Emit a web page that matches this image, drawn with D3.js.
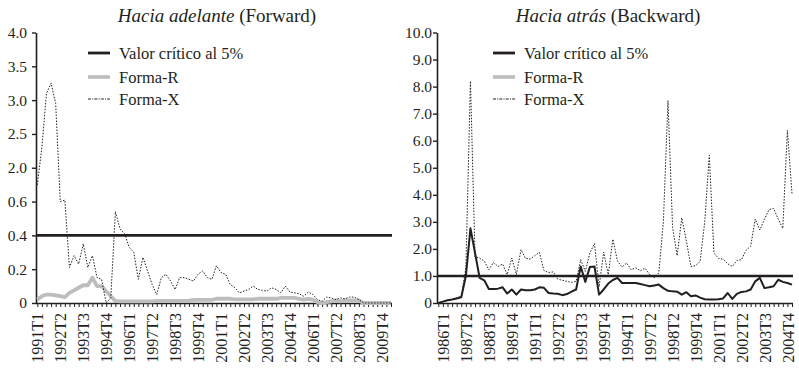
<!DOCTYPE html>
<html>
<head>
<meta charset="utf-8">
<script src="https://cdn.jsdelivr.net/npm/d3@7"></script>
<style>
  body { margin: 0; background: #fff; }
  svg text { font-family: "Liberation Serif", "DejaVu Serif", serif; fill: #231f20; }
</style>
</head>
<body>
<div id="container"></div>
<script>
const width = 799, height = 370;

/** -------------- DATA -------------- */

// left panel: 1991T1 .. 2010T2, one value per quarter
const leftTickLabels = ["1991T1", "1992T2", "1993T3", "1994T4", "1996T1", "1997T2", "1998T3", "1999T4",
  "2001T1", "2002T2", "2003T3", "2004T4", "2006T1", "2007T2", "2008T3", "2009T4"];
const leftFormaR = [0.02, 0.04, 0.05, 0.05, 0.045, 0.04, 0.035, 0.06, 0.075, 0.09,
  0.105, 0.105, 0.15, 0.10, 0.10, 0.07, 0.04, 0.012, 0.01, 0.01,
  0.01, 0.01, 0.01, 0.01, 0.01, 0.01, 0.012, 0.012, 0.012, 0.012,
  0.012, 0.012, 0.012, 0.012, 0.018, 0.018, 0.018, 0.018, 0.018, 0.025,
  0.025, 0.025, 0.025, 0.022, 0.022, 0.022, 0.022, 0.022, 0.025, 0.025,
  0.025, 0.025, 0.025, 0.03, 0.03, 0.03, 0.03, 0.025, 0.02, 0.025,
  0.02, 0.005, 0, 0.005, 0.01, 0.015, 0.01, 0.015, 0.015, 0.015,
  0.015, 0, 0, 0, 0, 0, 0, 0];
const leftFormaX = [1.29, 2.3, 3.1, 3.25, 2.95, 0.6, 0.66, 0.21, 0.28, 0.23,
  0.35, 0.21, 0.28, 0.15, 0.14, 0.0, 0.03, 0.54, 0.44, 0.41,
  0.33, 0.30, 0.14, 0.27, 0.19, 0.11, 0.05, 0.15, 0.17, 0.13,
  0.08, 0.15, 0.15, 0.14, 0.13, 0.17, 0.19, 0.15, 0.14, 0.22,
  0.18, 0.17, 0.11, 0.09, 0.06, 0.07, 0.08, 0.10, 0.08, 0.075,
  0.07, 0.09, 0.08, 0.06, 0.10, 0.065, 0.06, 0.055, 0.04, 0.065,
  0.05, 0.02, 0.01, 0.035, 0.03, 0.02, 0.03, 0.025, 0.035, 0.035,
  0.02, 0, 0, 0, 0, 0, 0, 0];
const leftCritical = 0.4;
const leftYTicks = [0, 0.2, 0.4, 0.6, 2.0, 2.5, 3.0, 3.5, 4.0];
const leftYLabels = ["0", "0.2", "0.4", "0.6", "2.0", "2.5", "3.0", "3.5", "4.0"];

// right panel (labels as printed in the source)
const rightTickLabels = ["1986T1", "1987T2", "1988T3", "1989T4", "1991T1", "1992T2", "1993T3", "1999T4",
  "1994T1", "1997T2", "1998T2", "1999T4", "2001T1", "2002T2", "2003T3", "2004T4"];
const rightFormaR = [0, 0.05, 0.1, 0.13, 0.17, 0.21, 1.0, 2.76, 1.85, 0.93,
  0.84, 0.52, 0.52, 0.53, 0.58, 0.35, 0.5, 0.31, 0.5, 0.47,
  0.47, 0.5, 0.58, 0.56, 0.37, 0.35, 0.34, 0.29, 0.33, 0.42,
  0.5, 1.35, 0.78, 1.33, 1.35, 0.31, 0.5, 0.72, 0.85, 0.93,
  0.74, 0.74, 0.74, 0.74, 0.7, 0.66, 0.62, 0.65, 0.68, 0.55,
  0.45, 0.43, 0.42, 0.31, 0.4, 0.25, 0.28, 0.2, 0.14, 0.13,
  0.13, 0.14, 0.17, 0.37, 0.15, 0.34, 0.41, 0.43, 0.5, 0.8,
  0.93, 0.55, 0.58, 0.62, 0.86, 0.78, 0.74, 0.68];
const rightFormaX = [0, 0.06, 0.1, 0.13, 0.2, 0.25, 1.3, 8.2, 1.7, 1.66,
  1.55, 1.23, 1.5, 1.35, 1.44, 1.05, 1.66, 1.05, 1.97, 1.65,
  1.62, 1.75, 1.87, 1.2, 1.13, 1.15, 0.88, 0.84, 0.8, 0.76,
  0.8, 1.6, 1.17, 1.85, 2.2, 0.6, 1.88, 1.05, 2.36, 1.55,
  1.33, 1.48, 1.23, 1.3, 1.19, 1.29, 1.05, 0.93, 1.11, 3.0,
  7.48, 2.8, 1.75, 3.15, 2.3, 1.35, 1.38, 1.54, 3.0, 5.46,
  1.85, 1.65, 1.62, 1.45, 1.35, 1.57, 1.6, 1.95, 2.1, 3.1,
  2.7, 3.1, 3.45, 3.5, 3.1, 2.76, 6.38, 4.05];
const rightCritical = 1.0;
const rightYTicks = [0, 1, 2, 3, 4, 5, 6, 7, 8, 9, 10];
const rightYLabels = ["0", "1.0", "2.0", "3.0", "4.0", "5.0", "6.0", "7.0", "8.0", "9.0", "10.0"];

const legendLabels = ["Valor crítico al 5%", "Forma-R", "Forma-X"];

/** -------------- DRAW -------------- */

const svg = d3.select("#container")
  .append("svg")
  .attr("width", width)
  .attr("height", height);

const yTop = 32.5, yBottom = 303;

function panel(opts) {
  const n = opts.formaX.length;
  const x = d3.scaleLinear([0, n - 1], [opts.x0 + 1.3, opts.x1 - 1]);

  // evenly spaced gridline positions, so a piecewise scale handles broken axes
  const y = d3.scaleLinear(
    opts.yTicks,
    opts.yTicks.map((d, i) => yBottom - i * (yBottom - yTop) / (opts.yTicks.length - 1))
  );

  const g = svg.append("g");

  // title
  const title = g.append("text")
    .attr("x", opts.titleX)
    .attr("y", 22)
    .attr("text-anchor", "middle")
    .style("font-size", "19px");
  title.append("tspan").style("font-style", "italic").text(opts.titleIt);
  title.append("tspan").text(" " + opts.titleRoman);

  // y axis
  const yAxis = g.append("g")
    .attr("transform", `translate(${opts.x0},0)`)
    .call(d3.axisLeft(y)
      .tickValues(opts.yTicks)
      .tickFormat((d, i) => opts.yLabels[i])
      .tickSize(4)
      .tickSizeOuter(0)
      .tickPadding(opts.yPad));
  yAxis.select(".domain").attr("stroke", "#231f20").attr("stroke-width", 1.6);
  yAxis.selectAll(".tick line").attr("stroke", "#231f20").attr("stroke-width", 1.4);
  yAxis.selectAll("text").style("font-size", "15.5px").attr("fill", "#231f20");

  // x axis
  const xAxis = g.append("g")
    .attr("transform", `translate(0,${yBottom})`)
    .call(d3.axisBottom(x)
      .tickValues(d3.range(n))
      .tickFormat(i => (i - opts.labelOffset) % 5 === 0 && i >= opts.labelOffset
        ? opts.tickLabels[(i - opts.labelOffset) / 5] || "" : "")
      .tickSize(4)
      .tickSizeOuter(0));
  xAxis.select(".domain").attr("d", `M${opts.x0},0.5H${opts.x1}`)
    .attr("stroke", "#231f20").attr("stroke-width", 1.6);
  xAxis.selectAll(".tick line").attr("stroke", "#231f20").attr("stroke-width", 1);
  xAxis.selectAll("text")
    .attr("transform", "rotate(-90)")
    .attr("x", -10)
    .attr("y", 0)
    .attr("dy", "0.35em")
    .attr("text-anchor", "end")
    .style("font-size", "16px")
    .attr("fill", "#231f20");

  const line = d3.line().x((d, i) => x(i)).y(d => y(d));

  // Forma-R
  g.append("path")
    .datum(opts.formaR)
    .attr("fill", "none")
    .attr("stroke", opts.rColor)
    .attr("stroke-width", opts.rWidth)
    .attr("stroke-linejoin", "round")
    .attr("d", line);

  // Forma-X
  g.append("path")
    .datum(opts.formaX)
    .attr("fill", "none")
    .attr("stroke", "#231f20")
    .attr("stroke-width", 1)
    .attr("stroke-dasharray", "1.5,1.5")
    .attr("d", line);

  // critical value
  g.append("line")
    .attr("x1", opts.x0)
    .attr("x2", opts.x1)
    .attr("y1", y(opts.critical))
    .attr("y2", y(opts.critical))
    .attr("stroke", "#231f20")
    .attr("stroke-width", 2.6);

  // legend
  const legendY = [53, 77, 99];
  const legendStyles = [
    { stroke: "#231f20", width: 2.8, dash: null },
    { stroke: "#bdbdbd", width: 3.6, dash: null },
    { stroke: "#231f20", width: 1, dash: "3,1.2,1,1.2" }
  ];
  const leg = g.append("g").attr("transform", `translate(${opts.legendX},0)`);
  legendLabels.forEach((lab, i) => {
    leg.append("line")
      .attr("x1", 0).attr("x2", 22)
      .attr("y1", legendY[i]).attr("y2", legendY[i])
      .attr("stroke", legendStyles[i].stroke)
      .attr("stroke-width", legendStyles[i].width)
      .attr("stroke-dasharray", legendStyles[i].dash);
    leg.append("text")
      .attr("x", 31)
      .attr("y", legendY[i])
      .attr("dy", "0.35em")
      .style("font-size", "16.5px")
      .text(lab);
  });
}

panel({
  x0: 36, x1: 392, titleX: 217, legendX: 88, yPad: 5, labelOffset: 0,
  titleIt: "Hacia adelante", titleRoman: "(Forward)",
  yTicks: leftYTicks, yLabels: leftYLabels, tickLabels: leftTickLabels,
  formaR: leftFormaR, formaX: leftFormaX, critical: leftCritical,
  rColor: "#bdbdbd", rWidth: 3.8
});

panel({
  x0: 437, x1: 793, titleX: 608, legendX: 493, yPad: 1, labelOffset: 1,
  titleIt: "Hacia atrás", titleRoman: "(Backward)",
  yTicks: rightYTicks, yLabels: rightYLabels, tickLabels: rightTickLabels,
  formaR: rightFormaR, formaX: rightFormaX, critical: rightCritical,
  rColor: "#231f20", rWidth: 2
});
</script>
</body>
</html>
